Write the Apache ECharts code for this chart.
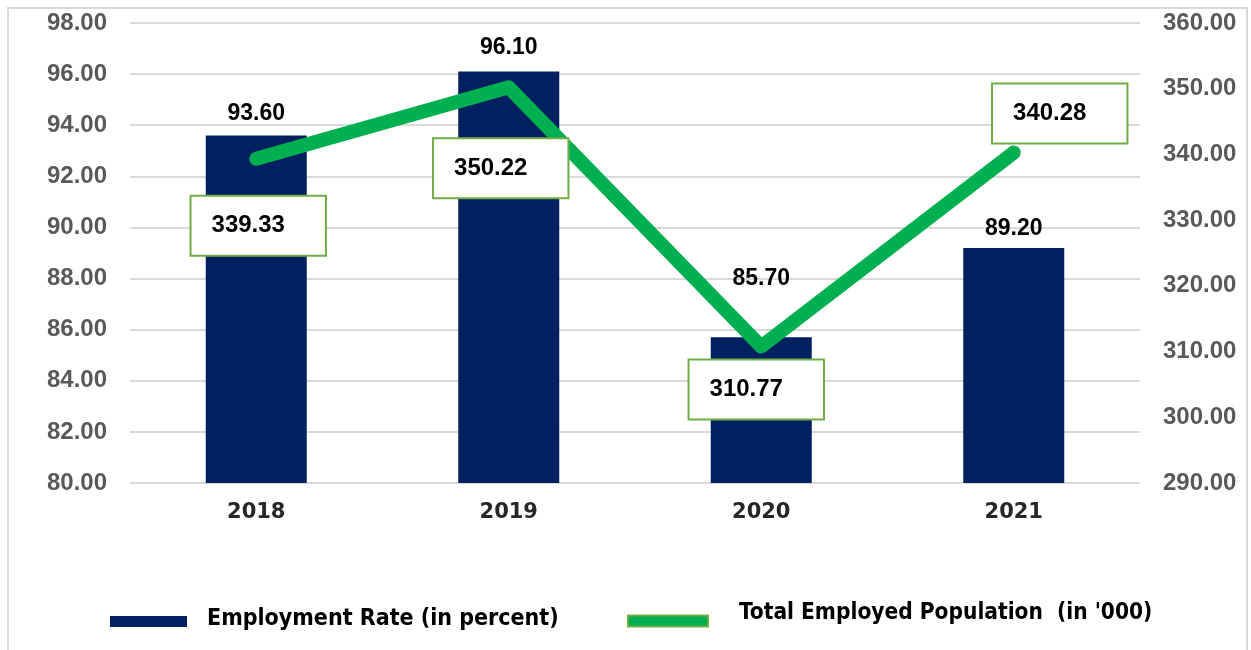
<!DOCTYPE html>
<html>
<head>
<meta charset="utf-8">
<script src="https://cdn.jsdelivr.net/npm/echarts@6/dist/echarts.min.js"></script>
<style>
html,body{margin:0;padding:0;background:#fff;}
#main{width:1251px;height:650px;}
</style>
</head>
<body>
<div id="main"></div>
<script>
var categories = ['2018', '2019', '2020', '2021'];
var employmentRate = [93.60, 96.10, 85.70, 89.20];
var employedPopulation = [339.33, 350.22, 310.77, 340.28];
var rateName = 'Employment Rate (in percent)';
var popName = "Total Employed Population  (in '000)";

var labelOffsets = [[2, 67], [-8, 81], [-5, 43], [46, -39]];
var barLabelDistance = [10, 12, 47, 8];

var chart = echarts.init(document.getElementById('main'), null, {renderer: 'canvas'});

var tickFont = {color: '#595959', fontFamily: 'Liberation Sans', fontWeight: 'bold', fontSize: 24};
var legendFont = 'Liberation Sans Narrow, DejaVu Sans Condensed, sans-serif';

var option = {
  backgroundColor: '#ffffff',
  animation: false,
  graphic: [{
    type: 'rect',
    shape: {x: 8, y: 8, width: 1239, height: 700},
    style: {fill: 'none', stroke: '#d9d9d9', lineWidth: 2},
    silent: true
  }],
  grid: {left: 130, right: 111, top: 23, bottom: 167},
  legend: [{
    data: [rateName],
    left: 110, top: 607.5, padding: 0,
    itemWidth: 77, itemHeight: 11,
    icon: 'rect',
    formatter: '{t|{name}}',
    textStyle: {
      padding: [0, 0, 5, 15],
      rich: {t: {color: '#000', fontFamily: legendFont, fontWeight: 'bold', fontSize: 23}}
    }
  }, {
    data: [popName],
    left: 627, top: 602, padding: 0,
    itemWidth: 80, itemHeight: 11,
    icon: 'rect',
    itemStyle: {borderColor: '#70ad47', borderWidth: 2},
    formatter: '{t|{name}}',
    textStyle: {
      padding: [0, 0, 15, 26],
      rich: {t: {color: '#000', fontFamily: legendFont, fontWeight: 'bold', fontSize: 22.5}}
    }
  }],
  xAxis: {
    type: 'category',
    data: categories,
    axisLine: {show: false},
    axisTick: {show: false},
    axisLabel: {color: '#262626', fontFamily: 'DejaVu Sans', fontWeight: 'bold', fontSize: 21, margin: 19}
  },
  yAxis: [{
    type: 'value',
    min: 80, max: 98, interval: 2,
    axisLine: {show: false},
    axisTick: {show: false},
    axisLabel: Object.assign({formatter: function (v) { return v.toFixed(2); }, margin: 23}, tickFont),
    splitLine: {lineStyle: {color: '#d9d9d9', width: 2}}
  }, {
    type: 'value',
    min: 290, max: 360, interval: 10,
    axisLine: {show: false},
    axisTick: {show: false},
    axisLabel: Object.assign({formatter: function (v) { return v.toFixed(2); }, margin: 23}, tickFont),
    splitLine: {show: false}
  }],
  series: [{
    name: rateName,
    type: 'bar',
    yAxisIndex: 0,
    data: employmentRate.map(function (v, i) {
      return {value: v, label: {distance: barLabelDistance[i]}};
    }),
    barWidth: 101,
    itemStyle: {color: '#002060'},
    label: {
      show: true, position: 'top',
      formatter: function (p) { return p.value.toFixed(2); },
      color: '#000', fontFamily: 'Liberation Sans', fontWeight: 'bold', fontSize: 23
    }
  }, {
    name: popName,
    type: 'line',
    yAxisIndex: 1,
    symbol: 'circle',
    symbolSize: 1,
    showSymbol: true,
    z: 5,
    itemStyle: {color: '#00b050'},
    lineStyle: {color: '#00b050', width: 14, cap: 'round', join: 'round'},
    data: employedPopulation.map(function (v, i) {
      return {value: v, label: {offset: labelOffsets[i]}};
    }),
    label: {
      show: true, position: 'inside',
      formatter: function (p) { return p.value.toFixed(2); },
      color: '#000', fontFamily: 'Liberation Sans', fontWeight: 'bold', fontSize: 24,
      backgroundColor: '#ffffff', borderColor: '#70ad47', borderWidth: 2,
      padding: [17, 40, 17, 20], lineHeight: 24
    }
  }]
};
chart.setOption(option);
</script>
</body>
</html>
